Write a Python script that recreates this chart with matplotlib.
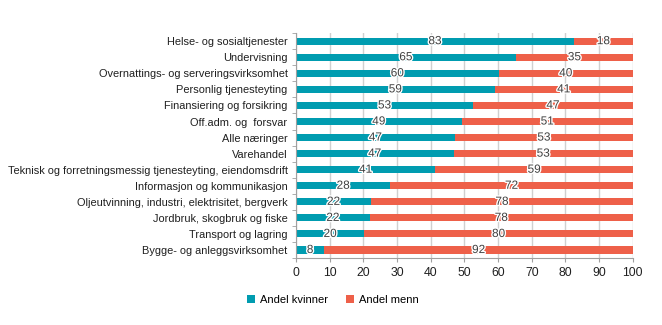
import matplotlib.pyplot as plt
import matplotlib.patheffects as pe
import numpy as np

plt.rcParams['font.family'] = ['Liberation Sans', 'DejaVu Sans']

# Data (top to bottom)
naeringer = [
    "Helse- og sosialtjenester",
    "Undervisning",
    "Overnattings- og serveringsvirksomhet",
    "Personlig tjenesteyting",
    "Finansiering og forsikring",
    "Off.adm. og  forsvar",
    "Alle næringer",
    "Varehandel",
    "Teknisk og forretningsmessig tjenesteyting, eiendomsdrift",
    "Informasjon og kommunikasjon",
    "Oljeutvinning, industri, elektrisitet, bergverk",
    "Jordbruk, skogbruk og fiske",
    "Transport og lagring",
    "Bygge- og anleggsvirksomhet",
]
andel_kvinner = [82.5, 65.3, 60.2, 59.0, 52.6, 49.2, 47.2, 46.8, 41.4, 28.0, 22.3, 21.9, 20.3, 8.4]
andel_menn = [100 - v for v in andel_kvinner]
etikett_kvinner = [83, 65, 60, 59, 53, 49, 47, 47, 41, 28, 22, 22, 20, 8]
etikett_menn = [18, 35, 40, 41, 47, 51, 53, 53, 59, 72, 78, 78, 80, 92]

teal = "#009CB0"
rod = "#EE6049"
grid_col = "#D0D0D0"

fig = plt.figure(figsize=(6.62, 3.25), dpi=100)
ax = fig.add_axes([0.447, 0.206, 0.509, 0.692])

y = np.arange(len(naeringer))
h = 0.44
ax.barh(y, andel_kvinner, height=h, color=teal, label="Andel kvinner", zorder=2)
ax.barh(y, andel_menn, left=andel_kvinner, height=h, color=rod, label="Andel menn", zorder=2)

# verdietiketter midt i hvert segment
halo = [pe.withStroke(linewidth=2, foreground="white")]
for i in range(len(naeringer)):
    ax.text(andel_kvinner[i] / 2, y[i], str(etikett_kvinner[i]), ha="center", va="center",
            fontsize=8.5, color="#404040", path_effects=halo, zorder=3)
    ax.text(andel_kvinner[i] + andel_menn[i] / 2, y[i], str(etikett_menn[i]), ha="center",
            va="center", fontsize=8.5, color="#404040", path_effects=halo, zorder=3)

ax.set_xlim(0, 100)
ax.set_ylim(len(naeringer) - 0.5, -0.5)
ax.set_xticks(range(0, 101, 10))
ax.set_yticks(y)
ax.set_yticklabels(naeringer)
ax.set_yticks(np.arange(-0.5, len(naeringer), 1), minor=True)
ax.tick_params(axis="y", which="major", length=0, labelsize=7.9, pad=6, labelcolor="#202020")
ax.tick_params(axis="y", which="minor", length=3, color="#A0A0A0")
ax.tick_params(axis="x", length=3, color="#A0A0A0", labelsize=8.8, labelcolor="#202020")
ax.xaxis.grid(True, color=grid_col, linewidth=1, zorder=0)
ax.set_axisbelow(True)
for s in ["top", "right"]:
    ax.spines[s].set_visible(False)
for s in ["left", "bottom"]:
    ax.spines[s].set_color("#A0A0A0")

fig.legend(loc="center", bbox_to_anchor=(0.503, 0.077), ncol=2, frameon=False,
           fontsize=8, handlelength=0.7, handleheight=0.7, handletextpad=0.5,
           columnspacing=1.6)

fig.savefig("out.png", dpi=100)
